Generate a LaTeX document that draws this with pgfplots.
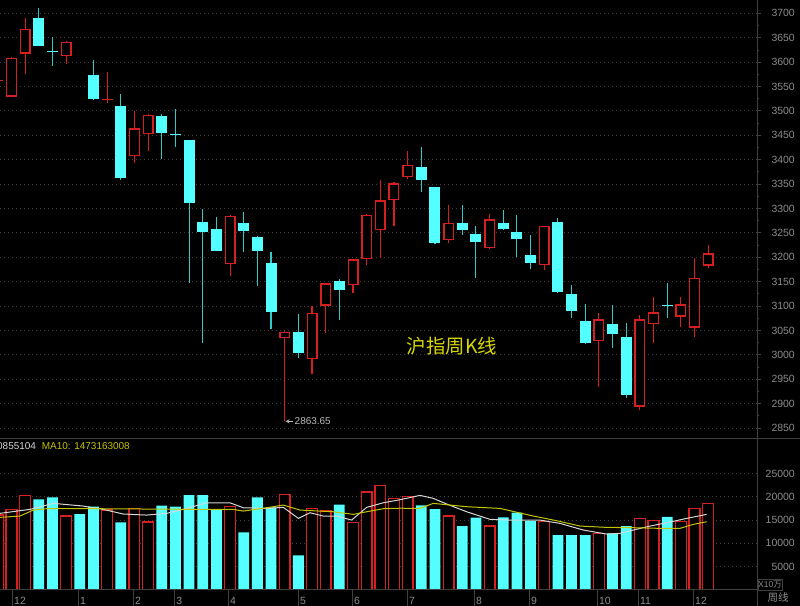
\documentclass[border=0pt]{standalone}
\usepackage{fontspec}
\setmainfont{Liberation Sans}
\newfontfamily\cjk{Noto Sans CJK SC}
\usepackage{pgfplots}
\usepackage{pgfplotstable}
\pgfplotsset{compat=1.18}
\definecolor{kred}{RGB}{214,32,32}
\definecolor{kcyan}{RGB}{84,255,255}
\definecolor{kwick}{RGB}{50,200,200}
\definecolor{kgrid}{RGB}{62,62,62}
\definecolor{klabel}{RGB}{140,140,140}
\definecolor{kann}{RGB}{185,185,185}
\definecolor{kyellow}{RGB}{214,214,0}
\definecolor{kline}{RGB}{64,64,64}
\definecolor{kma5}{RGB}{215,215,215}
\definecolor{kma10}{RGB}{196,196,0}

\pgfplotstableread{
i o h l c
1 3529 3610 3528 3609
2 3617 3690 3575 3668
5 3612 3643 3597 3642
10 3407 3500 3393 3464
11 3452 3494 3418 3492
17 3186 3287 3162 3285
21 3034 3048 2863.65 3047
23 2991 3100 2960 3086
24 3101 3148 3045 3147
26 3143 3197 3126 3196
27 3196 3289 3184 3287
28 3256 3358 3199 3317
29 3317 3355 3265 3352
30 3364 3418 3360 3389
33 3235 3307 3229 3271
36 3218 3288 3217 3278
40 3184 3265 3174 3264
44 3028 3085 2935 3073
47 2894 3082 2886 3073
48 3063 3118 3024 3087
50 3078 3118 3058 3104
51 3056 3198 3037 3158
52 3183 3225 3179 3208
}\upK

\pgfplotstableread{
i o h l c
3 3690 3710 3633 3634
7 3574 3604 3522 3524
9 3510 3535 3358 3363
12 3490 3494 3401 3454
14 3440 3441 3148 3311
15 3273 3299 3025 3252
16 3257 3282 3212 3213
18 3271 3292 3210 3254
19 3241 3243 3142 3213
20 3188 3210 3052 3088
22 3046 3083 2994 3003
25 3152 3155 3071 3133
31 3384 3427 3334 3358
32 3343 3344 3227 3229
34 3271 3307 3246 3256
35 3248 3265 3157 3231
37 3270 3297 3256 3258
38 3251 3287 3201 3237
39 3205 3246 3175 3188
41 3273 3280 3127 3128
42 3125 3143 3075 3090
43 3069 3104 3023 3025
45 3063 3102 3015 3042
46 3037 3065 2911 2918
}\downK

\pgfplotstableread{
i p h l
0 3563 3566 3560
8 3524 3580 3517
}\upDoji

\pgfplotstableread{
i p h l
4 3621 3651 3592
13 3451 3503 3427
49 3101 3148 3076
}\downDoji

\pgfplotstableread{
i v
0 16070
1 17290
2 20210
5 15860
8 17140
10 17500
11 14570
17 17860
21 20500
23 17500
24 16930
26 14430
27 21000
28 22430
29 19650
30 20000
33 15860
36 13710
40 14640
44 12150
47 15360
48 14860
50 14640
51 17500
52 18580
}\upV

\pgfplotstableread{
i v
3 19430
4 19860
6 16290
7 17860
9 14500
12 18070
13 17860
14 20360
15 20360
16 17140
18 12360
19 19860
20 17720
22 7430
25 18290
31 18150
32 17360
34 13710
35 15500
37 15580
38 16570
39 14790
41 11790
42 11790
43 11790
45 12150
46 13710
49 15710
}\downV

\begin{document}
\begin{tikzpicture}
\useasboundingbox (0,0) rectangle (800bp,606bp);
\fill[black] (0,0) rectangle (800bp,606bp);

% ---------------- price panel ----------------
\begin{axis}[
  at={(0,167bp)}, anchor=south west,
  x=13.66bp, y=0.4879bp,
  xmin=0.158, xmax=55.575, ymin=2827.5, ymax=3727.3,
  axis line style={draw=none},
  xtick=\empty,
  ytick={2850,2900,...,3700},
  minor y tick num=1,
  ytick pos=right, yticklabel pos=right,
  tick align=outside,
  major tick length=4bp, minor tick length=2bp,
  tick style={kline, line width=0.8bp},
  ymajorgrids,
  major grid style={kgrid, line width=0.8bp, dash pattern=on 1bp off 3bp},
  yticklabel style={font=\fontsize{10.5}{12}\selectfont, text=klabel, anchor=east, inner sep=0pt, xshift=34bp},
  /pgf/number format/assume math mode=true,
  /pgf/number format/1000 sep={},
]
% wicks
\addplot[draw=none, mark=none, forget plot, error bars/.cd, y dir=plus, y explicit, error mark=none,
  error bar style={draw=kred, line width=1.1bp}]
  table[x=i, y=l, y error expr=\thisrow{h}-\thisrow{l}] {\upK};
\addplot[draw=none, mark=none, forget plot, error bars/.cd, y dir=plus, y explicit, error mark=none,
  error bar style={draw=kwick, line width=1.1bp}]
  table[x=i, y=l, y error expr=\thisrow{h}-\thisrow{l}] {\downK};
\addplot[draw=none, mark=none, forget plot, error bars/.cd, y dir=plus, y explicit, error mark=none,
  error bar style={draw=kred, line width=1.1bp}]
  table[x=i, y=l, y error expr=\thisrow{h}-\thisrow{l}] {\upDoji};
\addplot[draw=none, mark=none, forget plot, error bars/.cd, y dir=plus, y explicit, error mark=none,
  error bar style={draw=kwick, line width=1.1bp}]
  table[x=i, y=l, y error expr=\thisrow{h}-\thisrow{l}] {\downDoji};
% bodies: falling (filled cyan)
\addplot[draw=none, mark=none, forget plot, error bars/.cd, y dir=plus, y explicit, error mark=none,
  error bar style={draw=kcyan, line width=11bp}]
  table[x=i, y=c, y error expr=\thisrow{o}-\thisrow{c}] {\downK};
% bodies: rising (hollow red)
\addplot[draw=none, mark=none, forget plot, error bars/.cd, y dir=plus, y explicit, error mark=none,
  error bar style={draw=kred, line width=11bp}]
  table[x=i, y=o, y error expr=\thisrow{c}-\thisrow{o}] {\upK};
\addplot[draw=none, mark=none, forget plot, error bars/.cd, y dir=plus, y explicit, error mark=none,
  error bar style={draw=black, line width=8.2bp}]
  table[x=i, y expr=\thisrow{o}+2.9, y error expr=\thisrow{c}-\thisrow{o}-5.8] {\upK};
% doji bodies
\addplot[draw=none, mark=none, forget plot, error bars/.cd, y dir=plus, y explicit, error mark=none,
  error bar style={draw=kred, line width=11bp}]
  table[x=i, y expr=\thisrow{p}-1.3, y error expr=2.6] {\upDoji};
\addplot[draw=none, mark=none, forget plot, error bars/.cd, y dir=plus, y explicit, error mark=none,
  error bar style={draw=kcyan, line width=11bp}]
  table[x=i, y expr=\thisrow{p}-1.3, y error expr=2.6] {\downDoji};
% annotations
\draw[kann, line width=0.8bp, ->, >=stealth] (axis cs:21.6,2863.65) -- (axis cs:21.06,2863.65);
\node[anchor=west, inner sep=0pt, text=kann, font=\fontsize{10}{12}\selectfont] at (axis cs:21.72,2863.65) {2863.65};
\node[text=kyellow, font=\cjk\fontsize{19.5}{22}\selectfont] at (axis cs:33.25,3018) {沪指周K线};
\end{axis}

% ---------------- volume panel ----------------
\begin{axis}[
  at={(0,16bp)}, anchor=south west,
  x=13.66bp, y=0.004667bp,
  xmin=0.158, xmax=55.575, ymin=0, ymax=32355,
  axis line style={draw=none},
  xtick={1.04,5.87,9.89,12.9,16.85,21.97,25.93,29.95,34.86,38.88,43.86,46.86,50.89},
  xticklabels={12,1,2,3,4,5,6,7,8,9,10,11,12},
  xtick pos=left,
  ytick={5000,10000,...,25000},
  ytick pos=right, yticklabel pos=right,
  tick align=outside,
  major tick length=16bp,
  xtick style={kline, line width=0.8bp},
  ytick style={draw=none},
  scaled y ticks=false,
  ymajorgrids,
  major grid style={kgrid, line width=0.8bp, dash pattern=on 1bp off 3bp},
  yticklabel style={font=\fontsize{10.5}{12}\selectfont, text=klabel, anchor=east, inner sep=0pt, xshift=22bp},
  xticklabel style={font=\fontsize{10.5}{12}\selectfont, text=klabel, anchor=west, inner sep=0pt, xshift=2bp, yshift=5.5bp},
  /pgf/number format/assume math mode=true,
  /pgf/number format/1000 sep={},
  ybar, bar width=10.8bp, bar shift=0pt,
]
\addplot[draw=kred, fill=black, line width=1.3bp] table[x=i, y=v] {\upV};
\addplot[draw=none, fill=kcyan] table[x=i, y=v] {\downV};
\addplot[sharp plot, kma5, line width=1bp, mark=none] coordinates {
(0.158,16440) (2.354,17290) (4.06,18580) (6.26,18000) (7.72,17290) (9.18,16290)
(10.9,16070) (12.36,16440) (13.83,17500) (15.29,18710) (16.99,18710) (17.97,17640)
(19.68,17500) (20.9,17720) (22.0,15360) (22.85,16570) (23.83,15860) (24.81,15860)
(25.9,15000) (27.0,17720) (28.22,18710) (29.44,19360) (30.9,20290) (31.88,19650)
(32.86,18430) (34.32,16780) (36.03,15150) (37.49,15000) (39.69,15000) (41.15,14290)
(42.86,12860) (44.57,12000) (45.54,12150) (46.52,12860) (47.74,13710) (48.97,14430)
(50.43,15360) (51.89,16220)};
\addplot[sharp plot, kma10, line width=1bp, mark=none] coordinates {
(0.158,15580) (1.62,15860) (2.59,17140) (3.57,17430) (7.48,17430) (14.8,17290)
(17.24,17290) (17.97,16930) (19.68,17640) (20.9,18220) (22.12,17140) (24.56,16780)
(26.03,16220) (27.0,16780) (28.22,17430) (29.44,17540) (30.9,17500) (31.88,18580)
(34.32,17860) (36.76,17500) (39.2,15860) (40.91,14860) (42.62,13710) (44.57,13430)
(46.52,13360) (48.48,13220) (49.94,13220) (50.92,14080) (51.89,14640)};
\end{axis}

% frame lines
\draw[kline, line width=1bp] (0,167bp) -- (800bp,167bp);
\draw[kline, line width=1bp] (0,16bp) -- (757bp,16bp);
\draw[kline, line width=1bp] (757bp,0) -- (757bp,606bp);
% header texts
\node[anchor=west, inner sep=0pt, text=kma5, font=\fontsize{10}{12}\selectfont] at (-3bp,159.5bp) {0855104};
\node[anchor=west, inner sep=0pt, text=kma10, font=\fontsize{10}{12}\selectfont] at (41.7bp,159.5bp) {MA10: 1473163008};
% unit box and period label
\draw[kline, line width=0.8bp] (758bp,16bp) rectangle (782bp,27bp);
\node[anchor=center, inner sep=0pt, text=klabel, font=\fontsize{8.5}{10}\selectfont] at (770bp,21.5bp) {X10{\cjk 万}};
\node[anchor=center, inner sep=0pt, text=klabel, font=\cjk\fontsize{10.5}{12}\selectfont] at (778bp,8bp) {周线};
\end{tikzpicture}
\end{document}
